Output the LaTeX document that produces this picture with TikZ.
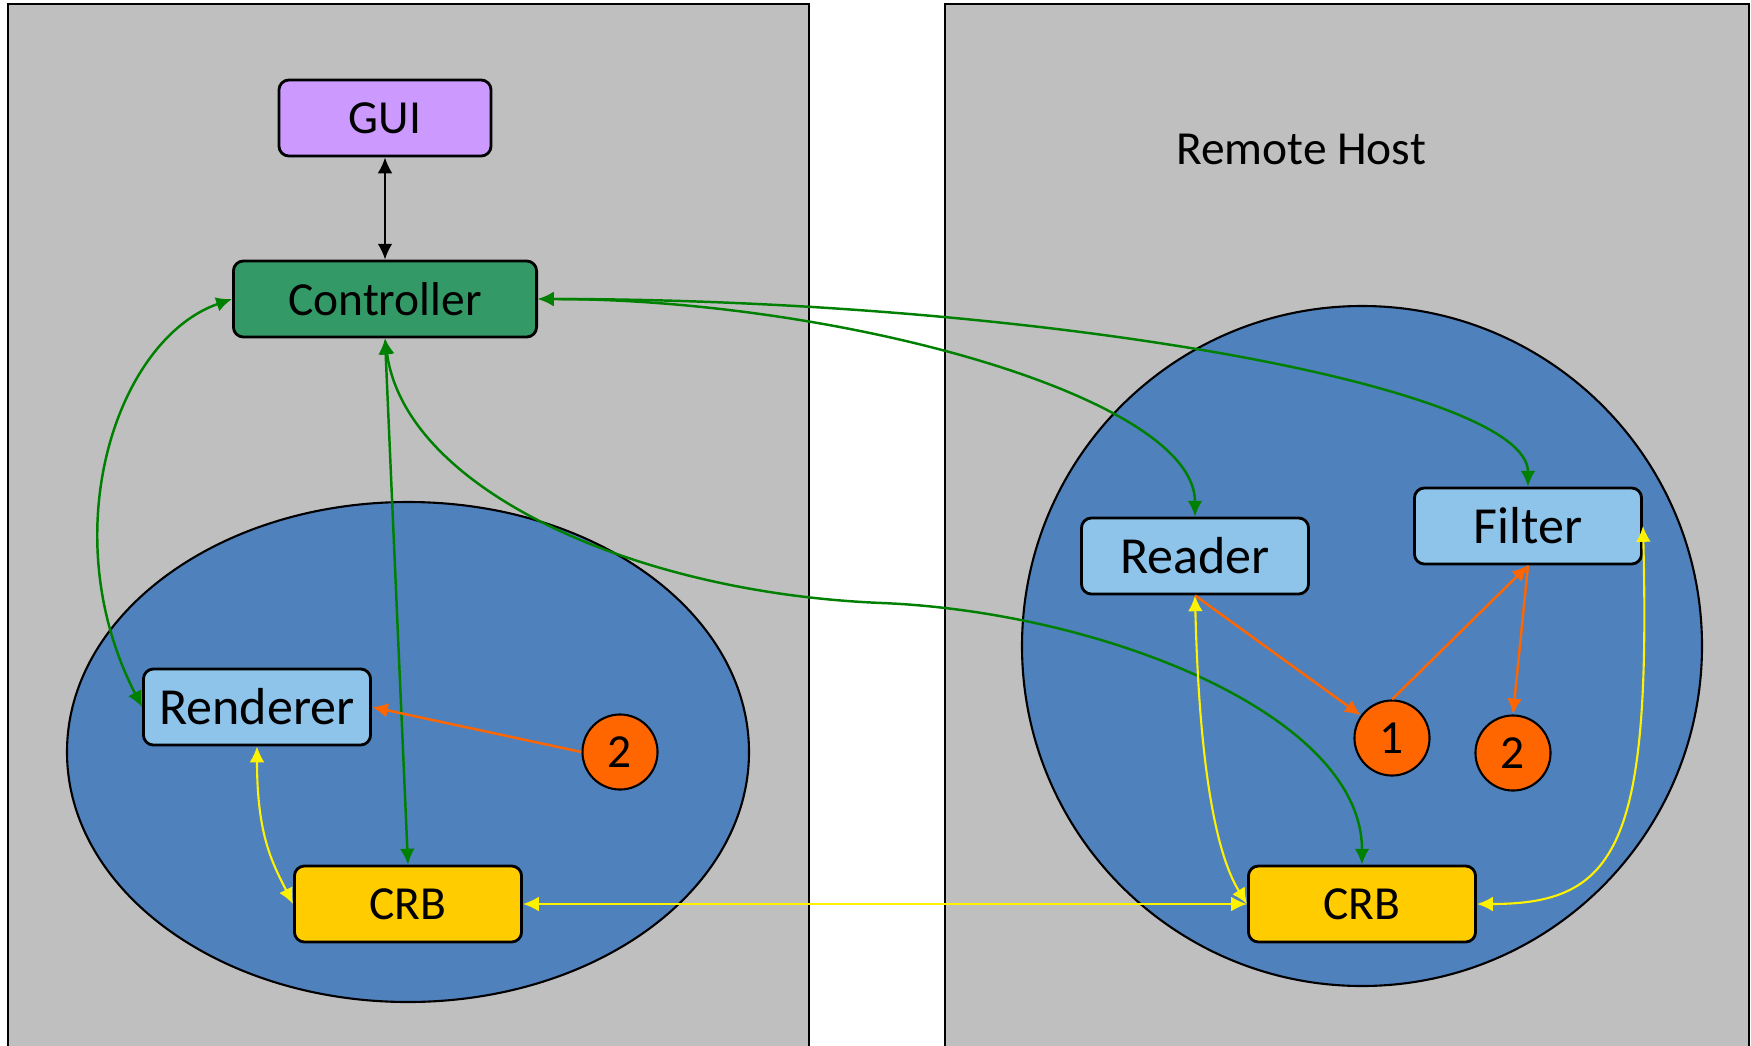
\documentclass[tikz,border=0pt]{standalone}
\usepackage{fontspec}
\setmainfont{Carlito}
\usetikzlibrary{arrows.meta}

\definecolor{panelgray}{HTML}{BFBFBF}
\definecolor{hostblue}{HTML}{4F81BD}
\definecolor{compblue}{HTML}{8EC3EA}
\definecolor{guipurple}{HTML}{CC99FF}
\definecolor{ctrlgreen}{HTML}{339966}
\definecolor{crbyellow}{HTML}{FFCC00}
\definecolor{tokenorange}{HTML}{FF6600}
\definecolor{linkgreen}{HTML}{008000}

\begin{document}
\begin{tikzpicture}[x=0.01cm, y=-0.01cm,
            >={Latex[length=4.5pt,width=4.2pt]},
            basebox/.style={rectangle, draw=black, line width=0.8pt, rounded corners=1mm, minimum height=0.76cm, font=\fontsize{13.5}{16}\selectfont},
            compnode/.style={basebox, fill=compblue, minimum width=2.27cm, font=\fontsize{14.8}{17}\selectfont},
            crbnode/.style={basebox, fill=crbyellow, minimum width=2.27cm},
            tokennode/.style={circle, draw=black, line width=0.6pt, fill=tokenorange, minimum size=0.75cm, inner sep=0pt, font=\fontsize{13.5}{16}\selectfont},
            ctrllink/.style={draw=linkgreen, line width=0.7pt, <->},
            datalink/.style={draw=yellow, line width=0.6pt, <->},
            tokenlink/.style={draw=tokenorange, line width=0.7pt, ->},
        ]
            \useasboundingbox (0,0) rectangle (1751,1045);
            \clip (0,0) rectangle (1751,1045);

            %Hosts
            \filldraw[fill=panelgray, line width=0.6pt] (8,4) rectangle (809,1100);
            \filldraw[fill=panelgray, line width=0.6pt] (945,4) rectangle (1749,1100);
            \filldraw[fill=hostblue, line width=0.6pt] (408,752) ellipse (341 and 250);
            \filldraw[fill=hostblue, line width=0.6pt] (1362,646) circle (340);

            %Nodes
            \node[basebox, fill=guipurple, minimum width=2.12cm] (gui) at (385,118) {GUI};
            \node[basebox, fill=ctrlgreen, minimum width=3.03cm] (ctrl) at (385,299) {Controller};
            \node[compnode] (rend) at (257,707) {Renderer};
            \node[crbnode] (crbL) at (408,904) {CRB};
            \node[tokennode] (tokL) at (620,752) {2};

            \node[font=\fontsize{13.5}{16}\selectfont] (host) at (1301,149) {Remote Host};
            \node[compnode] (read) at (1195,556) {Reader};
            \node[compnode] (filt) at (1528,526) {Filter};
            \node[tokennode] (tok1) at (1392,738) {1};
            \node[tokennode] (tok2) at (1513,753) {2};
            \node[crbnode] (crbR) at (1362,904) {CRB};

            \coordinate (bend) at (882,603);

            %Lines
            \draw[<->, line width=0.6pt] (gui) -- (ctrl);
            \draw[ctrllink] (ctrl.west) .. controls +(-115,40) and +(-90,-175) .. (rend.west);
            \draw[ctrllink] (ctrl.south) -- (crbL.north);
            \draw[ctrllink] (ctrl.south) .. controls +(20,150) and +(-250,-10) .. (bend) .. controls +(220,9) and +(0,-150) .. (crbR.north);
            \draw[ctrllink] (ctrl.east) .. controls +(300,0) and +(0,-120) .. (read.north);
            \draw[ctrllink] (ctrl.east) .. controls +(500,0) and +(0,-100) .. (filt.north);

            \draw[datalink] (crbL.east) -- (crbR.west);
            \draw[datalink] (rend.south) .. controls +(0,90) and +(-20,-40) .. (crbL.west);
            \draw[datalink] (read.south) .. controls +(5,200) and +(-25,-40) .. (crbR.west);
            \draw[datalink] (filt.east) .. controls +(8,320) and +(140,0) .. (crbR.east);

            \draw[tokenlink] (tokL.west) -- (rend.east);
            \draw[tokenlink] (read.south) -- (tok1);
            \draw[tokenlink] (tok1.north) -- (filt.south);
            \draw[tokenlink] (filt.south) -- (tok2.north);
        \end{tikzpicture}
\end{document}
